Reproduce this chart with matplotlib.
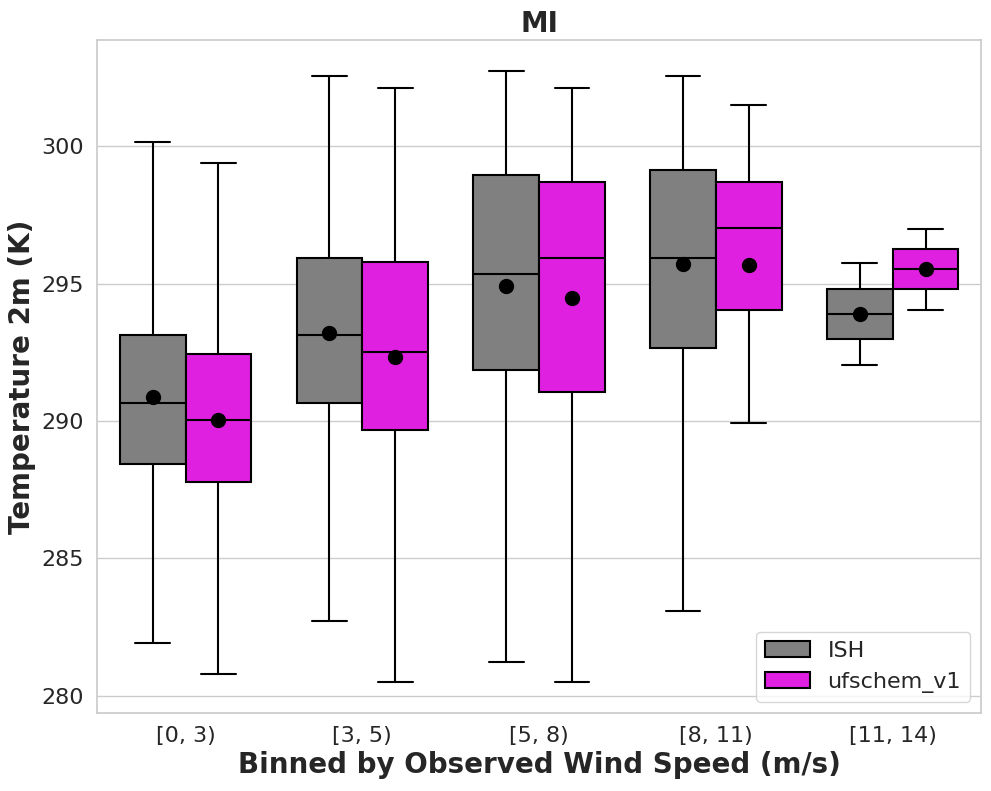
import matplotlib
matplotlib.use("Agg")
import matplotlib.pyplot as plt
import seaborn as sns
from matplotlib.patches import Patch

sns.set_theme(style="whitegrid")
plt.rcParams['font.family'] = ['DejaVu Sans']

categories = ["[0, 3)", "[3, 5)", "[5, 8)", "[8, 11)", "[11, 14)"]
series_names = ["ISH", "ufschem_v1"]
colors = ["#808080", "#E020E0"]

# per category: whislo, q1, med, q3, whishi, mean
ish_lo = [281.93, 282.73, 281.24, 283.09, 292.04]
ish_q1 = [288.44, 290.65, 291.85, 292.65, 292.98]
ish_med = [290.65, 293.13, 295.35, 295.93, 293.89]
ish_q3 = [293.13, 295.93, 298.95, 299.13, 294.80]
ish_hi = [300.15, 302.55, 302.73, 302.55, 295.75]
ish_mean = [290.87, 293.20, 294.91, 295.71, 293.89]

uf_lo = [280.80, 280.51, 280.51, 289.93, 294.04]
uf_q1 = [287.78, 289.67, 291.05, 294.04, 294.80]
uf_med = [290.04, 292.51, 295.93, 297.02, 295.53]
uf_q3 = [292.44, 295.78, 298.69, 298.69, 296.25]
uf_hi = [299.38, 302.11, 302.11, 301.49, 296.98]
uf_mean = [290.04, 292.33, 294.47, 295.67, 295.53]

series = [
    (ish_lo, ish_q1, ish_med, ish_q3, ish_hi, ish_mean),
    (uf_lo, uf_q1, uf_med, uf_q3, uf_hi, uf_mean),
]

fig, ax = plt.subplots(figsize=(9.91, 7.91), dpi=100)
fig.subplots_adjust(left=0.098, right=0.99, top=0.949, bottom=0.099)

width = 0.372
offsets = [-0.186, 0.186]
for s, (lo, q1, med, q3, hi, mn) in enumerate(series):
    stats = []
    for i in range(len(categories)):
        stats.append(dict(whislo=lo[i], q1=q1[i], med=med[i], q3=q3[i],
                          whishi=hi[i], mean=mn[i], fliers=[]))
    pos = [i + offsets[s] for i in range(len(categories))]
    ax.bxp(stats, positions=pos, widths=width, patch_artist=True,
           showmeans=True, showfliers=False, manage_ticks=False,
           boxprops=dict(facecolor=colors[s], edgecolor="black", linewidth=1.5),
           whiskerprops=dict(color="black", linewidth=1.5),
           capprops=dict(color="black", linewidth=1.5),
           medianprops=dict(color="black", linewidth=1.5),
           meanprops=dict(marker="o", markerfacecolor="black",
                          markeredgecolor="black", markersize=10),
           capwidths=width * 0.53, zorder=3)

ax.set_xlim(-0.5, len(categories) - 0.5)
ax.set_ylim(279.38, 303.85)
ax.set_xticks(range(len(categories)))
ax.set_xticklabels(categories)
ax.set_yticks([280, 285, 290, 295, 300])
ax.tick_params(axis='both', labelsize=16)
ax.xaxis.grid(False)
ax.yaxis.grid(True, color="#cccccc")
ax.set_axisbelow(True)

ax.set_xlabel("Binned by Observed Wind Speed (m/s)", fontsize=20, fontweight="bold")
ax.set_ylabel("Temperature 2m (K)", fontsize=20, fontweight="bold")
ax.set_title("MI", fontsize=20, fontweight="bold")

handles = [Patch(facecolor=colors[i], edgecolor="black", linewidth=1.5, label=series_names[i])
           for i in range(len(series_names))]
ax.legend(handles=handles, loc="lower right", fontsize=16)

fig.savefig("out.png", dpi=100)
